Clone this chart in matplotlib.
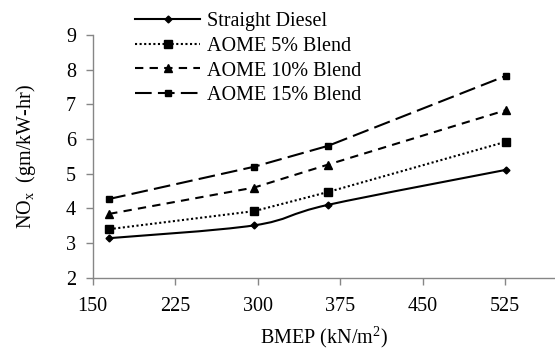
import matplotlib
matplotlib.use('Agg')
import matplotlib.pyplot as plt
from matplotlib.path import Path
from matplotlib.patches import PathPatch
from matplotlib.lines import Line2D
import numpy as np

# BMEP (kN/m2) load points
bmep = [165, 297, 364, 526]

# NOx emissions (gm/kW-hr)
diesel = [3.14, 3.51, 4.10, 5.11]
aome5 = [3.40, 3.92, 4.47, 5.92]
aome10 = [3.84, 4.60, 5.26, 6.83]
aome15 = [4.27, 5.20, 5.80, 7.82]

labels = ['Straight Diesel', 'AOME 5% Blend', 'AOME 10% Blend', 'AOME 15% Blend']
x_ticks = [150, 225, 300, 375, 450, 525]
y_ticks = [2, 3, 4, 5, 6, 7, 8, 9]

plt.rcParams['font.family'] = ['Liberation Serif', 'DejaVu Serif']
plt.rcParams['mathtext.fontset'] = 'custom'
plt.rcParams['mathtext.rm'] = 'Liberation Serif'
plt.rcParams['mathtext.it'] = 'Liberation Serif'

fs = 14.5

fig = plt.figure(figsize=(5.55, 3.52), dpi=100)
ax = fig.add_axes([0.167, 0.211, 0.832, 0.690])
ax.set_xlim(150, 570)
ax.set_ylim(2, 9)


def smooth_path(xs, ys):
    # Excel-like smoothed line (Catmull-Rom as cubic Bezier)
    p = np.column_stack([xs, ys]).astype(float)
    n = len(p)
    verts = [p[0]]
    codes = [Path.MOVETO]
    for i in range(n - 1):
        p0 = p[max(i - 1, 0)]
        p1 = p[i]
        p2 = p[i + 1]
        p3 = p[min(i + 2, n - 1)]
        c1 = p1 + (p2 - p0) / 6.0
        c2 = p2 - (p3 - p1) / 6.0
        verts += [c1, c2, p2]
        codes += [Path.CURVE4] * 3
    return Path(verts, codes)


lw = 1.5
ax.add_patch(PathPatch(smooth_path(bmep, diesel), fill=False, edgecolor='black', lw=lw))
ax.plot(bmep, diesel, ls='none', marker='D', ms=3.5, color='black')
ax.plot(bmep, aome5, ls=(0, (1, 1.2)), lw=lw, marker='s', ms=5.5, color='black')
ax.plot(bmep, aome10, ls=(0, (4, 3)), lw=lw, marker='^', ms=5.5, color='black')
ax.plot(bmep, aome15, ls=(0, (8, 3)), lw=lw, marker='s', ms=5, color='black')

handles = [
    Line2D([], [], ls='-', lw=lw, marker='D', ms=3.5, color='black'),
    Line2D([], [], ls=(0, (1, 1.2)), lw=lw, marker='s', ms=5.5, color='black'),
    Line2D([], [], ls=(0, (4, 3)), lw=lw, marker='^', ms=5.5, color='black'),
    Line2D([], [], ls=(0, (8, 3)), lw=lw, marker='s', ms=5, color='black'),
]
fig.legend(handles, labels, loc='upper left', bbox_to_anchor=(0.244, 0.966),
           frameon=False, fontsize=fs, handlelength=3.2, handletextpad=0.35,
           labelspacing=0.28, borderpad=0, borderaxespad=0)

ax.set_xticks(x_ticks)
ax.set_yticks(y_ticks)
ax.tick_params(axis='both', labelsize=fs, color='#868686', length=5, width=1)
ax.tick_params(axis='x', pad=9)
ax.tick_params(axis='y', pad=7)
for s in ['top', 'right']:
    ax.spines[s].set_visible(False)
for s in ['left', 'bottom']:
    ax.spines[s].set_color('#868686')
    ax.spines[s].set_linewidth(1)

ax.set_xlabel('BMEP (kN/m$^2$)', fontsize=fs, labelpad=6)
ax.set_ylabel('NO$_\\mathrm{x}$  (gm/kW-hr)', fontsize=fs, labelpad=20)

fig.savefig('out.png', dpi=100)
